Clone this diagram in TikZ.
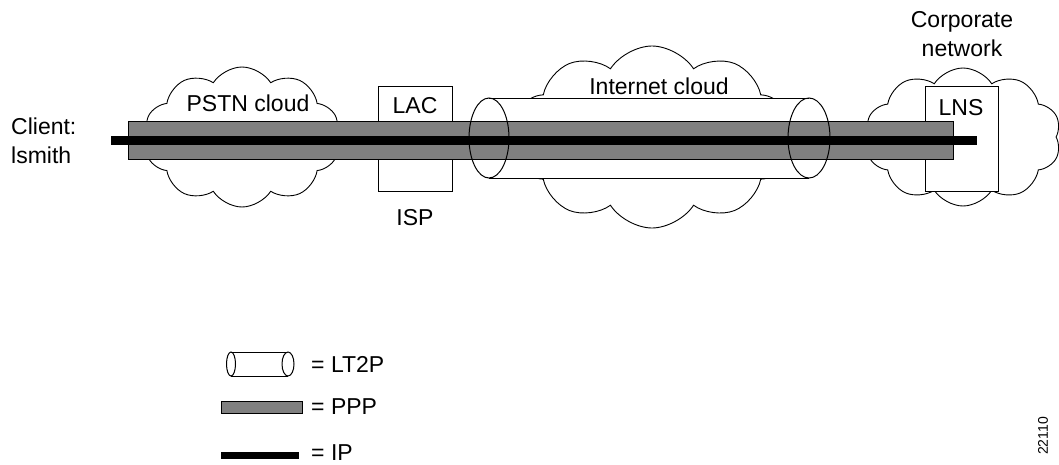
\documentclass[tikz,border=0pt]{standalone}
\usepackage{fontspec}
\setmainfont{Liberation Sans}
\usetikzlibrary{shapes.symbols}
\begin{document}
\begin{tikzpicture}[x=1pt,y=-1pt,
  lbl/.style={font=\fontsize{23}{28}\selectfont, inner sep=0pt},
  cloudshape/.style={cloud, draw=black, fill=white, line width=0.9pt, cloud puffs=10, cloud puff arc=115, cloud ignores aspect, inner sep=0pt},
  boxshape/.style={draw=black, fill=white, line width=0.9pt, inner sep=0pt},
  pppbar/.style={draw=black, fill=black!50, line width=0.9pt},
  ipbar/.style={fill=black},
  tube/.style={draw=black, line width=1pt}]
\useasboundingbox (0,0) rectangle (1059,464);
% clouds
\node[cloudshape, minimum width=196pt, minimum height=140pt] (pstn) at (242,137) {};
\node[cloudshape, minimum width=280pt, minimum height=182pt] (inet) at (652,137) {};
\node[cloudshape, minimum width=196pt, minimum height=138pt] (corp) at (963,137) {};
% boxes
\node[boxshape, minimum width=74pt, minimum height=105pt] (lac) at (415,138.5) {};
\node[boxshape, minimum width=73pt, minimum height=105pt] (lns) at (961.5,138.5) {};
% tunnel body
\coordinate (tl) at (489,138);
\coordinate (tr) at (809,138);
\fill[white] (489,98) rectangle (809,178);
\fill[white] (tr) ellipse [x radius=21, y radius=40];
\draw[tube] (489,98) -- (809,98);
\draw[tube] (489,178) -- (809,178);
% PPP and IP
\coordinate (pppS) at (128,121);
\coordinate (pppE) at (953,159);
\draw[pppbar] (pppS) rectangle (pppE);
\coordinate (ipS) at (111,136);
\coordinate (ipE) at (977,144.5);
\fill[ipbar] (ipS) rectangle (ipE);
% tunnel ends
\draw[tube] (tl) ellipse [x radius=20, y radius=40];
\draw[tube] (tr) ellipse [x radius=21, y radius=40];
% labels
\node[lbl] (pstnlbl) at (248,103) {PSTN cloud};
\node[lbl] (laclbl) at (415,106) {LAC};
\node[lbl] (isplbl) at (415,218) {ISP};
\node[lbl] (inetlbl) at (659,86) {Internet cloud};
\node[lbl] (lnslbl) at (961,108) {LNS};
\node[lbl, align=center] (corplbl) at (962,34) {Corporate\\[1pt]network};
\node[lbl, align=left, anchor=west] (client) at (11,141) {Client:\\[1pt]lsmith};
% legend
\draw[tube] (231,352) -- (288,352);
\draw[tube] (231,376) -- (288,376);
\draw[tube, fill=white] (288,364) ellipse [x radius=6, y radius=12];
\draw[tube] (231,364) ellipse [x radius=4.5, y radius=12];
\node[lbl, anchor=west] (lt2p) at (311,364) {= LT2P};
\draw[pppbar] (221,401) rectangle (302,413);
\node[lbl, anchor=west] (ppp) at (311,407) {= PPP};
\fill[ipbar] (221,452) rectangle (299,459);
\node[lbl, anchor=west] (ip) at (311,452.5) {= IP};
\node[font=\fontsize{14}{16}\selectfont, rotate=90, inner sep=0pt] (fig) at (1043,436) {22110};
\end{tikzpicture}
\end{document}
